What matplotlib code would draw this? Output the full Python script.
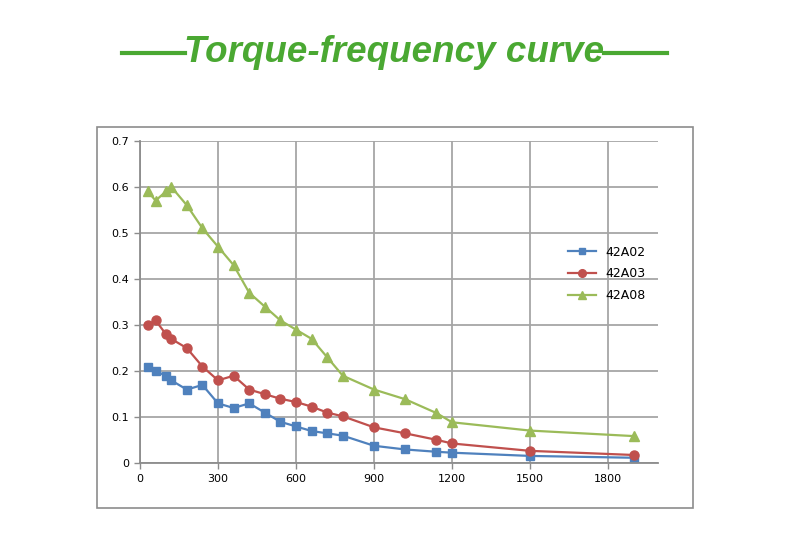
import matplotlib.pyplot as plt
from matplotlib.patches import Rectangle
from matplotlib.lines import Line2D

freq = [30, 60, 100, 120, 180, 240, 300, 360, 420, 480, 540, 600, 660, 720, 780,
        900, 1020, 1140, 1200, 1500, 1900]
a02 = [0.21, 0.20, 0.19, 0.18, 0.16, 0.17, 0.13, 0.12, 0.13, 0.11, 0.09, 0.08,
       0.07, 0.065, 0.06, 0.038, 0.03, 0.025, 0.023, 0.016, 0.012]
a03 = [0.30, 0.31, 0.28, 0.27, 0.25, 0.21, 0.18, 0.19, 0.16, 0.15, 0.14, 0.133,
       0.123, 0.11, 0.102, 0.078, 0.065, 0.051, 0.043, 0.027, 0.018]
a08 = [0.59, 0.57, 0.59, 0.60, 0.56, 0.51, 0.47, 0.43, 0.37, 0.34, 0.31, 0.29,
       0.27, 0.23, 0.19, 0.16, 0.139, 0.109, 0.089, 0.071, 0.059]
names = ['42A02', '42A03', '42A08']
xticks = [0, 300, 600, 900, 1200, 1500, 1800]
yticks = [0, 0.1, 0.2, 0.3, 0.4, 0.5, 0.6, 0.7]

W, H = 790, 534
fig = plt.figure(figsize=(W / 100, H / 100), dpi=100)
fig.patch.set_facecolor('white')

# outer frame of the chart
fig.patches.append(Rectangle((97 / W, 1 - 508 / H), (693 - 97) / W, (508 - 127) / H,
                             transform=fig.transFigure, fill=False,
                             edgecolor='#8c8c8c', linewidth=1.2))

ax = fig.add_axes([140 / W, 1 - 463.3 / H, (658 - 140) / W, (463.3 - 140.7) / H])

ax.plot(freq, a02, color='#4F81BD', marker='s', markersize=5.5, linewidth=1.6, label=names[0])
ax.plot(freq, a03, color='#C0504D', marker='o', markersize=6.5, linewidth=1.6, label=names[1])
ax.plot(freq, a08, color='#9BBB59', marker='^', markersize=6.5, linewidth=1.6, label=names[2])

ax.set_xlim(0, 1992)
ax.set_ylim(0, 0.7)
ax.set_xticks(xticks)
ax.set_yticks(yticks)
ax.set_yticklabels(['0', '0.1', '0.2', '0.3', '0.4', '0.5', '0.6', '0.7'])
ax.tick_params(labelsize=8, length=4, color='#8c8c8c', width=1, pad=4)
ax.grid(True, color='#a6a6a6', linewidth=1.3)
ax.set_axisbelow(True)
for s in ['top', 'right']:
    ax.spines[s].set_visible(False)
for s in ['left', 'bottom']:
    ax.spines[s].set_color('#8c8c8c')
    ax.spines[s].set_linewidth(1.3)

ax.legend(loc='upper left', bbox_to_anchor=(0.805, 0.71), frameon=False, fontsize=9,
          handlelength=2.2, labelspacing=0.7, markerscale=0.85)

fig.text(394 / W, 1 - 52 / H, 'Torque-frequency curve', ha='center', va='center',
         fontsize=26.5, fontweight='bold', fontstyle='italic', color='#4aa832',
         family='Liberation Sans')
for x0, x1 in [(122, 185), (604, 667)]:
    fig.lines.append(Line2D([x0 / W, x1 / W], [1 - 53 / H, 1 - 53 / H],
                            transform=fig.transFigure, color='#4aa832', linewidth=3))

fig.savefig('out.png', dpi=100)
